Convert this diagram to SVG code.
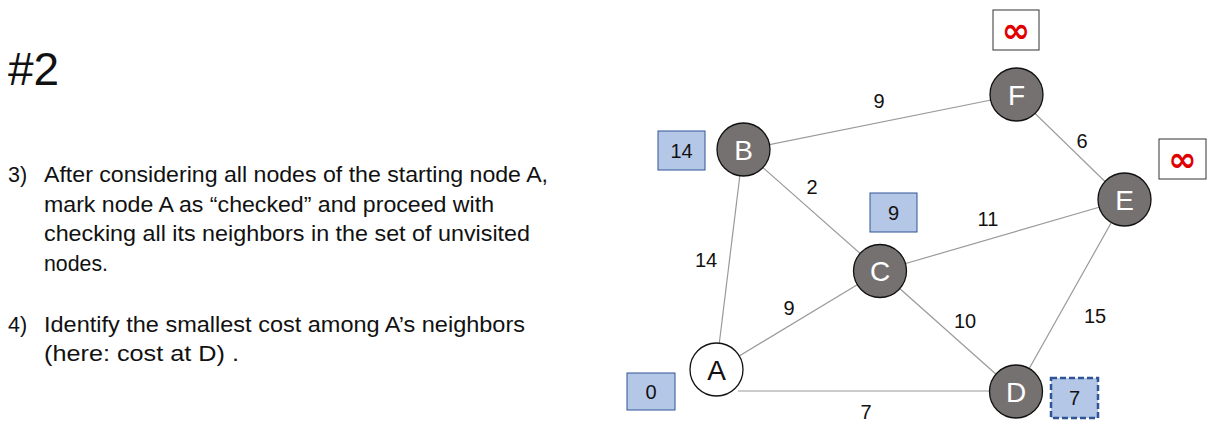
<svg xmlns="http://www.w3.org/2000/svg" width="1215" height="430" viewBox="0 0 1215 430">
<style>
text{font-family:"Liberation Sans",Arial,sans-serif;}
.body{font-size:21.5px;fill:#111;}
.title{font-size:46px;fill:#111;}
.edge{stroke:#9a9a9a;stroke-width:1.2;fill:none;}
.elab{font-size:20px;fill:#111;text-anchor:middle;}
.node{fill:#767171;stroke:#111;stroke-width:1.3;}
.nodew{fill:#fff;stroke:#111;stroke-width:1.3;}
.nlab{font-size:28px;fill:#fff;text-anchor:middle;}
.nlabk{font-size:28px;fill:#111;text-anchor:middle;}
.cost{fill:#b4c7e7;stroke:#2f5597;stroke-width:1;}
.costd{fill:#b4c7e7;stroke:#2f5597;stroke-width:2.5;stroke-dasharray:6 3;}
.inf{fill:#fff;stroke:#333;stroke-width:1;}
.clab{font-size:20px;fill:#111;text-anchor:middle;}
.ilab{font-size:34px;font-weight:bold;fill:#e00000;text-anchor:middle;font-family:"DejaVu Sans",sans-serif;}
</style>
<text class="title" x="8" y="85">#2</text>
<g id="text">
<text class="body" x="8" y="182">3)</text>
<text class="body" x="44" y="182" textLength="504" lengthAdjust="spacingAndGlyphs">After considering all nodes of the starting node A,</text>
<text class="body" x="44" y="211.5" textLength="450" lengthAdjust="spacingAndGlyphs">mark node A as “checked” and proceed with</text>
<text class="body" x="44" y="241" textLength="486" lengthAdjust="spacingAndGlyphs">checking all its neighbors in the set of unvisited</text>
<text class="body" x="44" y="270.5" textLength="64" lengthAdjust="spacingAndGlyphs">nodes.</text>
<text class="body" x="8" y="332">4)</text>
<text class="body" x="44" y="332" textLength="481" lengthAdjust="spacingAndGlyphs">Identify the smallest cost among A’s neighbors</text>
<text class="body" x="44" y="361" textLength="195" lengthAdjust="spacingAndGlyphs">(here: cost at D) .</text>
</g>
<g id="connectors">
<line class="edge" x1="743" y1="150" x2="1016" y2="95"/>
<line class="edge" x1="1016" y1="95" x2="1124" y2="200"/>
<line class="edge" x1="743" y1="150" x2="880" y2="271"/>
<line class="edge" x1="743" y1="150" x2="716" y2="370"/>
<line class="edge" x1="880" y1="271" x2="1124" y2="200"/>
<line class="edge" x1="716" y1="370" x2="880" y2="271"/>
<line class="edge" x1="880" y1="271" x2="1016" y2="392"/>
<line class="edge" x1="1124" y1="200" x2="1016" y2="392"/>
<polyline class="edge" points="738,391 1016,391"/>
<text class="elab" x="879" y="108">9</text>
<text class="elab" x="1082" y="148">6</text>
<text class="elab" x="812" y="194">2</text>
<text class="elab" x="988" y="226">11</text>
<text class="elab" x="706" y="267">14</text>
<text class="elab" x="789" y="315">9</text>
<text class="elab" x="965" y="328">10</text>
<text class="elab" x="1095" y="323">15</text>
<text class="elab" x="866" y="419">7</text>
</g>
<g id="node-B"><circle class="node" cx="743.5" cy="149.5" r="26.5"/><text class="nlab" x="743.5" y="159.5">B</text></g>
<g id="node-F"><circle class="node" cx="1016.5" cy="94.5" r="26.5"/><text class="nlab" x="1016.5" y="104.5">F</text></g>
<g id="node-E"><circle class="node" cx="1124.5" cy="199.5" r="26.5"/><text class="nlab" x="1124.5" y="209.5">E</text></g>
<g id="node-C"><circle class="node" cx="880" cy="271" r="26.5"/><text class="nlab" x="880" y="281">C</text></g>
<g id="node-A"><circle class="nodew" cx="716.5" cy="369.5" r="26.5"/><text class="nlabk" x="716.5" y="379.5">A</text></g>
<g id="node-D"><circle class="node" cx="1016" cy="391.5" r="26.5"/><text class="nlab" x="1016" y="401.5">D</text></g>
<g id="cost-B"><rect class="cost" x="658" y="131" width="47" height="39"/><text class="clab" x="681.5" y="157.5">14</text></g>
<g id="cost-F"><rect class="inf" x="993" y="10" width="46" height="40"/><text class="ilab" x="1016" y="42">∞</text></g>
<g id="cost-E"><rect class="inf" x="1159" y="139" width="47" height="40"/><text class="ilab" x="1182.5" y="171">∞</text></g>
<g id="cost-C"><rect class="cost" x="870" y="193" width="47" height="39"/><text class="clab" x="893.5" y="219.5">9</text></g>
<g id="cost-A"><rect class="cost" x="627" y="373" width="48" height="37"/><text class="clab" x="651" y="398.5">0</text></g>
<g id="cost-D"><rect class="costd" x="1051" y="378" width="47" height="40"/><text class="clab" x="1074.5" y="405">7</text></g>
</svg>
